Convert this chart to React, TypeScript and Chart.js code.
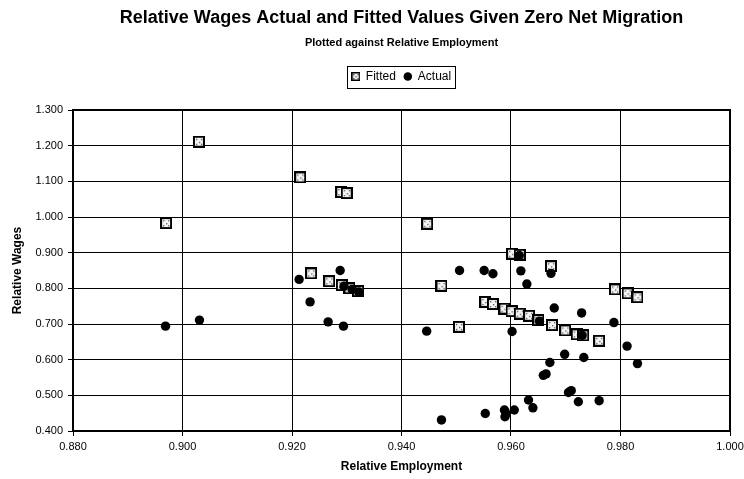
import React, { useEffect, useRef } from 'react';
import { Chart, registerables } from 'chart.js';

Chart.register(...registerables);

const TITLE = 'Relative Wages Actual and Fitted Values Given Zero Net Migration';
const SUBTITLE = 'Plotted against Relative Employment';
const X_TITLE = 'Relative Employment';
const Y_TITLE = 'Relative Wages';
const SERIES_NAMES = ['Fitted', 'Actual'];

const xTickValues = [0.88, 0.9, 0.92, 0.94, 0.96, 0.98, 1.0];
const yTickValues = [0.4, 0.5, 0.6, 0.7, 0.8, 0.9, 1.0, 1.1, 1.2, 1.3];

const fittedX = [0.897, 0.903, 0.9215, 0.9235, 0.9268, 0.929, 0.930, 0.9291, 0.9305, 0.9321, 0.9447, 0.9473, 0.9505, 0.9553, 0.9567, 0.9588, 0.9601, 0.9602, 0.9616, 0.9616, 0.9633, 0.965, 0.9673, 0.9675, 0.9699, 0.972, 0.9732, 0.9761, 0.979, 0.9813, 0.9831];
const fittedY = [0.983, 1.211, 1.111, 0.842, 0.820, 1.070, 1.067, 0.809, 0.800, 0.792, 0.981, 0.807, 0.692, 0.762, 0.756, 0.743, 0.736, 0.897, 0.729, 0.894, 0.723, 0.711, 0.862, 0.697, 0.682, 0.671, 0.668, 0.653, 0.797, 0.786, 0.775];

const actualX = [0.8969, 0.9031, 0.9213, 0.9233, 0.9266, 0.9288, 0.9294, 0.9295, 0.931, 0.9322, 0.9446, 0.9473, 0.9506, 0.9551, 0.9553, 0.9567, 0.9588, 0.9589, 0.9591, 0.9602, 0.9606, 0.9615, 0.9618, 0.9629, 0.9632, 0.964, 0.9652, 0.9659, 0.9664, 0.9671, 0.9673, 0.9679, 0.9698, 0.9705, 0.971, 0.9723, 0.9729, 0.973, 0.9733, 0.9761, 0.9788, 0.9812, 0.9831];
const actualY = [0.694, 0.711, 0.825, 0.762, 0.706, 0.850, 0.694, 0.806, 0.797, 0.790, 0.680, 0.431, 0.850, 0.850, 0.449, 0.841, 0.459, 0.440, 0.448, 0.679, 0.459, 0.892, 0.849, 0.812, 0.487, 0.465, 0.708, 0.556, 0.560, 0.592, 0.842, 0.745, 0.615, 0.508, 0.513, 0.482, 0.731, 0.668, 0.606, 0.485, 0.704, 0.638, 0.589];

function makeSquare(size: number, border: number): HTMLCanvasElement {
  const c = document.createElement('canvas');
  c.width = size;
  c.height = size;
  const g = c.getContext('2d')!;
  g.fillStyle = '#f4f4f4';
  g.fillRect(0, 0, size, size);
  g.fillStyle = '#555';
  const m = size / 2;
  const d = size * 0.22;
  const dots = [[m - d, m - d], [m + d, m - d], [m - d, m + d], [m + d, m + d], [m, m]];
  dots.forEach(([x, y]) => g.fillRect(Math.round(x - 0.5), Math.round(y - 0.5), 1.3, 1.3));
  g.strokeStyle = '#000';
  g.lineWidth = border;
  g.strokeRect(border / 2, border / 2, size - border, size - border);
  return c;
}

const LEGEND_SHIFT = 17.5;

export default function App() {
  const ref = useRef<HTMLCanvasElement>(null);
  useEffect(() => {
    const canvas = ref.current;
    if (!canvas) return;
    const bigSq = makeSquare(12, 2);
    const smallSq = makeSquare(9, 1.5);
    const fontFamily = '"Liberation Sans", Arial, sans-serif';
    Chart.defaults.font.family = fontFamily;
    Chart.defaults.color = '#000';

    const framePlugin = {
      id: 'frame',
      beforeDatasetsDraw(chart: any) {
        const { ctx, chartArea: a } = chart;
        ctx.save();
        ctx.strokeStyle = '#000';
        ctx.lineWidth = 2;
        ctx.strokeRect(a.left, a.top, a.right - a.left, a.bottom - a.top);
        ctx.restore();
      },
    };
    const legendBoxPlugin = {
      id: 'legendBox',
      afterLayout(chart: any) {
        const lg = chart.legend;
        if (lg) {
          lg.top -= LEGEND_SHIFT;
          lg.bottom -= LEGEND_SHIFT;
        }
      },
      afterDraw(chart: any) {
        const lg = chart.legend;
        if (!lg || !lg.legendHitBoxes || !lg.legendHitBoxes.length) return;
        const hb = lg.legendHitBoxes;
        let l = Infinity, r = -Infinity, t = Infinity, b = -Infinity;
        hb.forEach((h: any) => {
          l = Math.min(l, h.left);
          r = Math.max(r, h.left + h.width);
          t = Math.min(t, h.top);
          b = Math.max(b, h.top + h.height);
        });
        const ctx = chart.ctx;
        ctx.save();
        ctx.strokeStyle = '#000';
        ctx.lineWidth = 1;
        ctx.strokeRect(Math.round(l - 5) + 0.5, Math.round(t - 5) + 0.5, Math.round(r - l + 9), Math.round(b - t + 10));
        ctx.restore();
      },
    };

    const chart = new Chart(canvas, {
      type: 'scatter',
      data: {
        datasets: [
          {
            label: SERIES_NAMES[0],
            data: fittedX.map((x, i) => ({ x, y: fittedY[i] })),
            pointStyle: bigSq as any,
            pointRadius: 6,
            backgroundColor: '#f4f4f4',
            borderColor: '#000',
            order: 2,
          },
          {
            label: SERIES_NAMES[1],
            data: actualX.map((x, i) => ({ x, y: actualY[i] })),
            pointStyle: 'circle',
            pointRadius: 4.7,
            backgroundColor: '#000',
            borderColor: '#000',
            borderWidth: 0,
            order: 1,
          },
        ],
      },
      options: {
        responsive: false,
        animation: false,
        events: [],
        layout: { padding: { left: 8, right: 14, top: 0, bottom: 0 } },
        plugins: {
          title: {
            display: true,
            text: TITLE,
            fullSize: false,
            color: '#000',
            font: { size: 18, weight: 'bold', family: fontFamily },
            padding: { top: 7, bottom: 3 },
          },
          subtitle: {
            display: true,
            text: SUBTITLE,
            fullSize: false,
            color: '#000',
            font: { size: 11, weight: 'bold', family: fontFamily },
            padding: { top: 5, bottom: 30.2 },
          },
          legend: {
            display: true,
            fullSize: false,
            position: 'top',
            labels: {
              usePointStyle: true,
              boxWidth: 8,
              boxHeight: 6,
              padding: 8,
              color: '#000',
              font: { size: 12, family: fontFamily },
              generateLabels(ch: any) {
                const items = (Chart.defaults.plugins.legend.labels as any).generateLabels(ch);
                items.forEach((it: any) => {
                  if (it.datasetIndex === 0) {
                    it.pointStyle = smallSq;
                  } else {
                    it.pointStyle = 'circle';
                    it.fillStyle = '#000';
                    it.strokeStyle = '#000';
                  }
                });
                return items.sort((a: any, b: any) => a.datasetIndex - b.datasetIndex);
              },
            },
          },
          tooltip: { enabled: false },
        },
        scales: {
          x: {
            type: 'linear',
            min: 0.88,
            max: 1.0,
            afterBuildTicks: (s: any) => {
              s.ticks = xTickValues.map((v) => ({ value: v }));
            },
            afterFit: (s: any) => {
              s.height = 48;
              s.paddingRight = 14;
              s.paddingLeft = 0;
            },
            grid: { color: '#000', lineWidth: 1, tickLength: 5, tickColor: '#000' },
            border: { color: '#000', width: 2 },
            ticks: {
              color: '#000',
              padding: 4,
              font: { size: 11, family: fontFamily },
              maxRotation: 0,
              callback: (v: any) => Number(v).toFixed(3),
            },
            title: {
              display: true,
              text: X_TITLE,
              color: '#000',
              font: { size: 12, weight: 'bold', family: fontFamily },
              padding: { top: 4, bottom: 5 },
            },
          },
          y: {
            type: 'linear',
            min: 0.4,
            max: 1.3,
            afterBuildTicks: (s: any) => {
              s.ticks = yTickValues.map((v) => ({ value: v }));
            },
            afterFit: (s: any) => {
              s.width = 65;
            },
            grid: { color: '#000', lineWidth: 1, tickLength: 5, tickColor: '#000' },
            border: { color: '#000', width: 2 },
            ticks: {
              color: '#000',
              padding: 5,
              font: { size: 11, family: fontFamily },
              callback: (v: any) => Number(v).toFixed(3),
            },
            title: {
              display: true,
              text: Y_TITLE,
              color: '#000',
              font: { size: 12, weight: 'bold', family: fontFamily },
              padding: { top: 2, bottom: 0 },
            },
          },
        },
      },
      plugins: [framePlugin, legendBoxPlugin],
    } as any);
    return () => chart.destroy();
  }, []);

  return (
    <div style={{ position: 'fixed', left: 0, top: 0, width: 744, height: 479, background: '#fff' }}>
      <canvas ref={ref} width={744} height={479} style={{ display: 'block', width: 744, height: 479 }} />
    </div>
  );
}
